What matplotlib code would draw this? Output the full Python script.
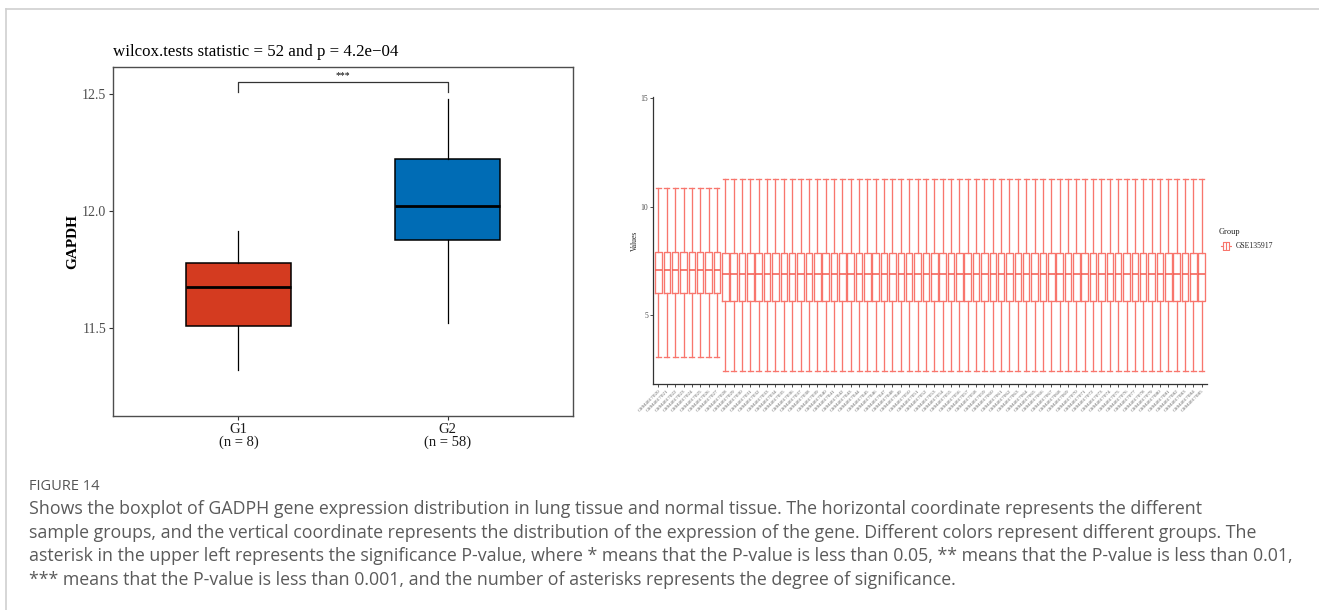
import matplotlib
matplotlib.use("Agg")
import matplotlib.pyplot as plt
from matplotlib.lines import Line2D

# ---------------- Left panel data (GAPDH by group) ----------------
groups = ["G1", "G2"]
group_n = [8, 58]
whisker_lo = [11.32, 11.52]
q1 = [11.51, 11.876]
median = [11.675, 12.023]
q3 = [11.779, 12.222]
whisker_hi = [11.916, 12.48]
box_colors = ["#D43B20", "#006CB5"]
left_yticks = [11.5, 12.0, 12.5]
title_text = "wilcox.tests statistic = 52 and p = 4.2e\u221204"
sig_label = "***"
sig_y = 12.55

# ---------------- Right panel data (per-sample distribution) ----------------
group_sizes = [8, 58]
grp_whisker_lo = [3.08, 2.42]
grp_q1 = [6.00, 5.65]
grp_median = [7.06, 6.89]
grp_q3 = [7.92, 7.88]
grp_whisker_hi = [10.86, 11.28]
sample_ids = ["GSM%d" % (4017020 + i) for i in range(66)]
right_yticks = [5, 10, 15]
legend_label = "GSE135917"

caption_lines = [
    "Shows the boxplot of GADPH gene expression distribution in lung tissue and normal tissue. The horizontal coordinate represents the different",
    "sample groups, and the vertical coordinate represents the distribution of the expression of the gene. Different colors represent different groups. The",
    "asterisk in the upper left represents the significance P-value, where * means that the P-value is less than 0.05, ** means that the P-value is less than 0.01,",
    "*** means that the P-value is less than 0.001, and the number of asterisks represents the degree of significance.",
]

W, H = 1319, 610
fig = plt.figure(figsize=(W / 100, H / 100), dpi=100)
fig.patch.set_facecolor("white")
SERIF = ["Liberation Serif", "DejaVu Serif"]

# page border (top and left)
fig.add_artist(Line2D([6 / W, 1], [1 - 9 / H, 1 - 9 / H], color="#cfcfcf", lw=1.2, transform=fig.transFigure))
fig.add_artist(Line2D([6 / W, 6 / W], [0, 1 - 9 / H], color="#cfcfcf", lw=1.2, transform=fig.transFigure))

# ---------------- Left panel ----------------
axL = fig.add_axes([113 / W, 1 - 416 / H, (573 - 113) / W, (416 - 67) / H])
stats = []
for i in range(len(groups)):
    stats.append(dict(whislo=whisker_lo[i], q1=q1[i], med=median[i], q3=q3[i],
                      whishi=whisker_hi[i], fliers=[], label=groups[i]))
bp = axL.bxp(stats, positions=[1, 2], widths=0.5, patch_artist=True, showcaps=False,
             boxprops=dict(linewidth=1.1, edgecolor="black"),
             medianprops=dict(color="black", linewidth=2.0),
             whiskerprops=dict(color="black", linewidth=0.9))
for patch, c in zip(bp["boxes"], box_colors):
    patch.set_facecolor(c)
axL.set_xlim(0.4, 2.6)
axL.set_ylim(11.124, 12.615)
axL.set_yticks(left_yticks)
axL.set_yticklabels(["%.1f" % v for v in left_yticks], fontfamily=SERIF, fontsize=10, color="#4d4d4d")
axL.set_xticks([1, 2])
axL.set_xticklabels(["%s\n(n = %d)" % (g, n) for g, n in zip(groups, group_n)],
                    fontfamily=SERIF, fontsize=10.5, color="#1a1a1a", linespacing=0.95)
axL.tick_params(axis="both", length=3, width=0.8, color="#333333", pad=2)
for s in axL.spines.values():
    s.set_color("#4d4d4d")
    s.set_linewidth(1.0)
axL.set_ylabel("GAPDH", fontfamily=SERIF, fontsize=11, fontweight="bold", labelpad=2)
axL.set_title(title_text, fontfamily=SERIF, fontsize=12.2, loc="left", pad=8)
# significance bracket
tip = 0.04
axL.plot([1, 1, 2, 2], [sig_y - tip, sig_y, sig_y, sig_y - tip], color="#333333", lw=0.9)
axL.text(1.5, sig_y + 0.008, sig_label, ha="center", va="bottom", fontfamily=SERIF, fontsize=7)

# ---------------- Right panel ----------------
axR = fig.add_axes([653 / W, 1 - 384 / H, (1207 - 653) / W, (384 - 97) / H])
rstats = []
idx = 0
for g, size in enumerate(group_sizes):
    for k in range(size):
        rstats.append(dict(whislo=grp_whisker_lo[g], q1=grp_q1[g], med=grp_median[g], q3=grp_q3[g],
                           whishi=grp_whisker_hi[g], fliers=[], label=sample_ids[idx]))
        idx += 1
pos = list(range(1, len(rstats) + 1))
line_c = "#F8766D"
axR.bxp(rstats, positions=pos, widths=0.78, patch_artist=False, showcaps=True,
        boxprops=dict(color=line_c, linewidth=0.95),
        medianprops=dict(color="#F35A4E", linewidth=1.1),
        whiskerprops=dict(color=line_c, linewidth=0.95),
        capprops=dict(color=line_c, linewidth=0.95), capwidths=0.6)
axR.set_xlim(0.35, 66.63)
axR.set_ylim(1.82, 15.05)
axR.set_yticks(right_yticks)
axR.set_yticklabels([str(v) for v in right_yticks], fontfamily=SERIF, fontsize=5.5, color="#4d4d4d")
axR.set_xticks(pos)
axR.set_xticklabels(sample_ids, rotation=45, ha="right", rotation_mode="anchor",
                    fontfamily=SERIF, fontsize=3.8, color="#666666")
axR.tick_params(axis="both", length=2, width=0.6, color="#333333", pad=1.5)
for side in ["top", "right"]:
    axR.spines[side].set_visible(False)
for side in ["left", "bottom"]:
    axR.spines[side].set_color("#333333")
    axR.spines[side].set_linewidth(0.9)
axR.set_ylabel("Values", fontfamily=SERIF, fontsize=5.5, color="#222222", labelpad=1)

# legend
fig.text(1219 / W, 1 - 232 / H, "Group", fontfamily=SERIF, fontsize=6, va="center", ha="left", color="#222222")
axK = fig.add_axes([1220 / W, 1 - 251 / H, 12 / W, 10 / H])
axK.bxp([dict(whislo=0.05, q1=0.28, med=0.5, q3=0.72, whishi=0.95, fliers=[])], positions=[0.5],
        widths=0.8, vert=False, showcaps=False,
        boxprops=dict(color=line_c, linewidth=0.8), medianprops=dict(color=line_c, linewidth=0.8),
        whiskerprops=dict(color=line_c, linewidth=0.8))
axK.set_xlim(0, 1)
axK.set_ylim(0, 1)
axK.axis("off")
fig.text(1236 / W, 1 - 246 / H, legend_label, fontfamily=SERIF, fontsize=5.5, va="center", ha="left", color="#222222")

# ---------------- Caption ----------------
CAP = ["Open Sans", "DejaVu Sans"]
fig.text(29 / W, 1 - 486 / H, "FIGURE 14", fontfamily=CAP, fontsize=10.5, color="#555555", va="center", ha="left")
for i, line in enumerate(caption_lines):
    fig.text(29 / W, 1 - (509 + 23.7 * i) / H, line, fontfamily=CAP, fontsize=12.75,
             color="#5a5a5a", va="center", ha="left")

fig.savefig("out.png", dpi=100, facecolor="white")
